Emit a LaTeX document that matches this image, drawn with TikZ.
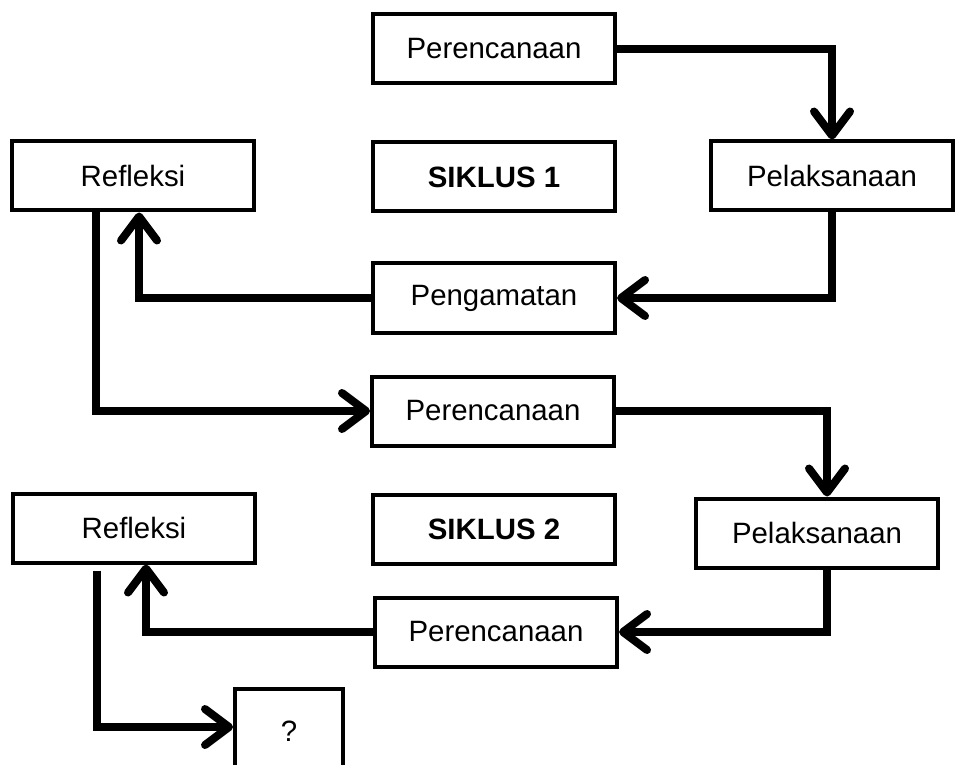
\documentclass[tikz,border=0pt]{standalone}
\usepackage{fontspec}
\setmainfont{Liberation Sans}
\usetikzlibrary{arrows.meta,calc}
\tikzset{
  stage/.style={draw, line width=2pt, minimum width=121pt, minimum height=34.5pt, inner sep=0pt, font=\fontsize{14.7}{17}\selectfont},
  flow/.style={line width=4pt, -{Straight Barb[length=12pt,width=18pt,round]}}
}
\begin{document}
\begin{tikzpicture}[x=0.5pt,y=-0.5pt]
        \useasboundingbox (0,0) rectangle (956,764);
        % siklus 1
        \node[stage] (per1) at (494,49) {Perencanaan};
        \node[stage] (ref1) at (133,176) {Refleksi};
        \node[stage, font=\fontsize{14.7}{17}\selectfont\bfseries] (sik1) at (494,177) {SIKLUS 1};
        \node[stage] (pel1) at (832,176) {Pelaksanaan};
        \node[stage] (peng) at (494,298) {Pengamatan};
        % siklus 2
        \node[stage] (per2) at (493,411) {Perencanaan};
        \node[stage] (ref2) at (134,528) {Refleksi};
        \node[stage, font=\fontsize{14.7}{17}\selectfont\bfseries] (sik2) at (494,529) {SIKLUS 2};
        \node[stage] (pel2) at (817,533) {Pelaksanaan};
        \node[stage] (per3) at (496,632) {Perencanaan};
        \node[stage, minimum width=54pt, minimum height=42pt] (q) at (289,731) {?};
        % alur
        \draw[flow] (per1.east) -| (pel1.north);
        \draw[flow] (pel1.south) |- (peng.east);
        \draw[flow] (peng.west) -| ([xshift=3pt]ref1.south);
        \draw[flow] ($(ref1.south west)!0.35!(ref1.south east)$) |- (per2.west);
        \draw[flow] (per2.east) -| ([xshift=5pt]pel2.north);
        \draw[flow] ([xshift=5pt]pel2.south) |- (per3.east);
        \draw[flow] (per3.west) -| ([xshift=6pt]ref2.south);
        \draw[flow, shorten <=3pt] ($(ref2.south west)!0.35!(ref2.south east)$) |- ([yshift=2pt]q.west);
    \end{tikzpicture}
\end{document}
